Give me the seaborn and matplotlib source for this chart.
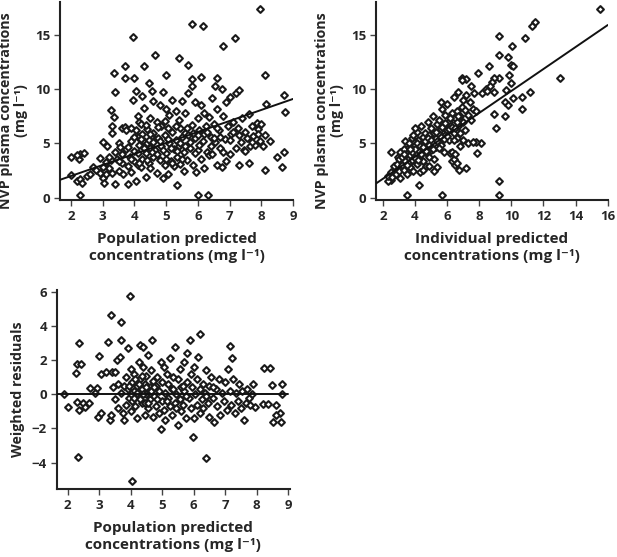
import numpy as np
import pandas as pd
import seaborn as sns
import matplotlib
matplotlib.use("Agg")
import matplotlib.pyplot as plt

pop_pts = [
    (2.0, 2.1), (2.0, 3.8), (2.28, 0.3), (2.2, 1.5), (2.3, 1.7), (2.25, 3.6), (2.3, 4.0), (2.2, 3.9),
    (2.4, 4.1), (2.35, 1.4), (2.5, 2.0), (2.7, 2.8), (2.8, 2.6), (2.9, 3.7), (3.0, 5.1), (3.0, 1.8),
    (3.05, 1.4), (3.1, 2.2), (3.1, 3.3), (3.15, 4.8), (3.2, 2.7), (3.25, 3.5), (3.3, 6.0), (3.3, 6.6),
    (3.25, 8.1), (3.35, 7.4), (3.4, 9.7), (3.35, 11.5), (3.4, 4.2), (3.4, 1.3), (3.45, 3.6), (3.5, 5.0),
    (3.5, 2.5), (3.55, 4.7), (3.6, 6.4), (3.6, 3.2), (3.65, 2.2), (3.7, 6.5), (3.7, 12.1), (3.7, 11.0),
    (3.75, 6.2), (3.75, 4.5), (3.8, 1.3), (3.8, 2.9), (3.85, 3.8), (3.9, 6.4), (3.9, 5.2), (3.9, 2.4),
    (3.95, 14.8), (3.95, 9.0), (4.0, 11.0), (4.0, 4.3), (4.0, 3.4), (4.05, 1.5), (4.05, 9.8), (4.1, 7.5),
    (4.1, 5.6), (4.1, 3.0), (4.15, 7.0), (4.15, 4.9), (4.2, 6.8), (4.2, 2.8), (4.25, 9.4), (4.25, 5.9),
    (4.25, 3.6), (4.3, 12.1), (4.3, 8.3), (4.3, 5.2), (4.35, 4.1), (4.35, 1.9), (4.4, 6.3), (4.4, 5.0),
    (4.45, 10.6), (4.45, 3.2), (4.5, 7.3), (4.5, 4.6), (4.5, 2.7), (4.55, 9.8), (4.55, 5.7), (4.6, 8.9),
    (4.6, 6.0), (4.6, 3.8), (4.65, 13.1), (4.65, 4.4), (4.7, 7.0), (4.7, 2.3), (4.75, 5.5), (4.8, 8.5),
    (4.8, 3.5), (4.85, 6.6), (4.85, 4.8), (4.9, 9.7), (4.9, 1.8), (4.95, 5.8), (4.95, 3.0), (5.0, 11.3),
    (5.0, 8.2), (5.0, 4.1), (5.05, 6.4), (5.05, 2.2), (5.1, 7.6), (5.1, 5.0), (5.15, 3.4), (5.2, 9.0),
    (5.2, 6.1), (5.25, 4.5), (5.25, 2.9), (5.3, 8.0), (5.3, 5.3), (5.35, 1.2), (5.35, 3.8), (5.4, 12.9),
    (5.4, 7.2), (5.4, 4.8), (5.45, 6.4), (5.45, 3.1), (5.5, 8.9), (5.5, 5.6), (5.55, 2.5), (5.55, 4.2),
    (5.6, 7.8), (5.6, 6.0), (5.65, 3.5), (5.7, 12.2), (5.7, 9.6), (5.7, 5.8), (5.75, 4.6), (5.8, 10.9),
    (5.8, 10.3), (5.8, 6.7), (5.82, 16.0), (5.85, 3.0), (5.9, 8.8), (5.9, 5.5), (5.95, 2.4), (6.0, 7.3),
    (6.0, 0.3), (6.0, 4.4), (6.05, 6.2), (6.1, 11.1), (6.1, 8.5), (6.1, 3.6), (6.15, 15.8), (6.15, 5.2),
    (6.2, 7.8), (6.2, 2.7), (6.25, 6.6), (6.3, 4.2), (6.33, 0.3), (6.35, 7.4), (6.35, 3.9), (6.4, 5.6),
    (6.45, 9.2), (6.45, 4.0), (6.5, 6.8), (6.55, 10.3), (6.55, 5.1), (6.6, 11.0), (6.6, 8.2), (6.6, 3.0),
    (6.65, 6.2), (6.7, 4.6), (6.75, 10.0), (6.75, 2.8), (6.8, 14.0), (6.8, 7.5), (6.85, 5.4), (6.9, 3.4),
    (6.9, 8.8), (6.95, 6.6), (7.0, 4.0), (7.0, 9.3), (7.05, 5.9), (7.1, 7.0), (7.16, 14.7), (7.2, 4.6),
    (7.2, 9.6), (7.25, 6.4), (7.3, 9.9), (7.3, 3.0), (7.35, 5.1), (7.4, 7.3), (7.45, 4.4), (7.5, 6.1),
    (7.55, 5.5), (7.6, 3.2), (7.6, 7.7), (7.65, 4.8), (7.7, 6.6), (7.75, 5.7), (7.8, 4.9), (7.85, 6.9),
    (7.9, 6.3), (7.95, 5.2), (7.97, 17.4), (8.0, 6.8), (8.05, 4.8), (8.1, 11.3), (8.1, 5.8), (8.12, 2.6),
    (8.15, 8.6), (8.28, 5.2), (8.5, 3.8), (8.65, 2.8), (8.72, 4.2), (8.72, 9.5), (8.73, 7.9),
    (3.6, 4.0), (3.8, 4.7), (3.9, 3.6), (4.0, 5.6), (4.05, 6.2), (4.1, 4.1), (4.15, 3.2), (4.2, 5.4),
    (4.3, 4.6), (4.35, 6.7), (4.4, 3.5), (4.45, 5.3), (4.5, 5.9), (4.55, 4.2), (4.6, 5.1), (4.7, 4.0),
    (4.75, 6.5), (4.8, 5.2), (4.9, 4.4), (4.95, 7.1), (5.0, 3.6), (5.05, 5.4), (5.15, 4.6), (5.2, 3.2),
    (5.3, 6.6), (5.35, 4.3), (5.45, 5.0), (5.5, 3.6), (5.6, 4.8), (5.65, 6.4), (5.75, 5.1), (5.85, 6.0),
    (5.9, 4.1), (6.0, 5.8), (6.05, 4.9), (6.2, 5.9), (6.3, 6.1), (6.4, 4.8), (6.5, 5.5), (6.6, 6.4),
    (6.7, 5.6), (6.8, 4.2), (7.0, 5.3), (7.1, 6.1), (7.3, 5.8), (7.5, 4.3), (7.7, 5.1), (7.9, 5.9),
    (3.2, 3.8), (3.5, 3.4), (3.3, 2.3), (3.0, 2.8), (2.9, 2.3), (2.6, 2.2),
]
pop_line_x = [1.65, 9.0]
pop_line_y = [1.65, 9.1]

# panel B: observed vs individual predicted
ind_pts = [
    (15.53, 17.4), (11.48, 16.15), (11.27, 15.8), (9.26, 14.9), (10.84, 14.7), (10.05, 14.0),
    (9.26, 13.1), (9.78, 12.95), (9.99, 12.25), (10.09, 12.1), (8.6, 12.15), (7.91, 11.5),
    (6.94, 11.0), (7.15, 10.9), (13.0, 11.0), (9.26, 11.0), (9.88, 11.3), (8.91, 11.0), (8.8, 10.65),
    (9.99, 10.6), (9.68, 9.9), (11.19, 9.7), (10.67, 9.3), (10.09, 9.2), (9.6, 8.8), (9.78, 8.55),
    (10.67, 8.15), (8.91, 7.7), (9.6, 7.5), (9.05, 6.4), (8.12, 5.0), (7.81, 5.1), (7.85, 4.1),
    (9.26, 1.5), (9.26, 0.25), (3.49, 0.25), (5.69, 0.25), (4.24, 1.2), (2.52, 1.6), (2.52, 4.2),
    (2.93, 3.8), (2.31, 1.5), (5.63, 8.8), (7.19, 2.7), (6.77, 2.55),
    (2.3, 2.0), (2.5, 2.4), (2.6, 1.9), (2.7, 2.9), (2.8, 2.2), (2.9, 3.1), (3.0, 2.5), (3.0, 3.6),
    (3.1, 4.2), (3.1, 1.8), (3.2, 3.0), (3.2, 3.8), (3.3, 2.6), (3.3, 4.5), (3.4, 3.4), (3.4, 5.2),
    (3.5, 2.2), (3.5, 4.0), (3.6, 3.2), (3.6, 4.7), (3.7, 2.8), (3.7, 3.9), (3.8, 5.5), (3.8, 3.5),
    (3.9, 4.3), (3.9, 2.5), (4.0, 4.9), (4.0, 3.7), (4.1, 6.1), (4.1, 3.1), (4.2, 4.4), (4.2, 5.3),
    (4.3, 2.4), (4.3, 3.9), (4.4, 6.6), (4.4, 4.8), (4.5, 5.6), (4.5, 3.4), (4.6, 4.2), (4.6, 6.0),
    (4.7, 5.1), (4.7, 2.9), (4.8, 4.6), (4.8, 7.0), (4.9, 5.8), (4.9, 3.8), (5.0, 6.4), (5.0, 4.4),
    (5.1, 5.2), (5.1, 7.5), (5.2, 6.0), (5.2, 3.6), (5.3, 5.5), (5.3, 4.7), (5.4, 6.8), (5.4, 2.8),
    (5.5, 5.9), (5.5, 7.2), (5.6, 6.3), (5.6, 4.9), (5.7, 5.4), (5.7, 8.2), (5.8, 6.7), (5.8, 4.2),
    (5.9, 7.6), (5.9, 5.8), (6.0, 6.2), (6.0, 8.6), (6.1, 5.3), (6.1, 7.0), (6.2, 4.1), (6.2, 6.6),
    (6.3, 7.8), (6.3, 3.4), (6.4, 6.0), (6.4, 9.3), (6.5, 7.3), (6.5, 3.0), (6.6, 8.0), (6.6, 5.5),
    (6.7, 9.7), (6.7, 6.6), (6.8, 7.5), (6.8, 4.8), (6.9, 8.4), (6.9, 10.8), (7.0, 7.0), (7.0, 9.0),
    (7.1, 6.2), (7.1, 8.1), (7.2, 9.5), (7.3, 7.6), (7.4, 8.8), (7.5, 7.2), (7.5, 10.3), (7.6, 8.2),
    (7.7, 9.6), (7.8, 8.0), (8.2, 9.6), (8.4, 10.0), (8.5, 9.8), (8.7, 10.3), (8.9, 9.7),
    (3.5, 3.0), (3.8, 4.2), (4.0, 4.5), (4.1, 5.0), (4.2, 3.5), (4.3, 4.8), (4.4, 4.0), (4.5, 4.7),
    (4.6, 5.2), (4.7, 4.3), (4.8, 5.5), (4.9, 4.9), (5.0, 5.3), (5.1, 4.5), (5.2, 5.0), (5.3, 6.1),
    (5.4, 5.2), (5.5, 4.6), (5.6, 5.6), (5.7, 6.5), (5.8, 5.4), (5.9, 6.9), (6.0, 5.7), (6.1, 6.3),
    (6.2, 7.3), (6.3, 6.5), (6.4, 5.3), (6.5, 6.4), (6.6, 7.0), (6.7, 7.5), (6.8, 6.0), (3.9, 5.8),
    (4.0, 6.4), (3.6, 5.0), (3.3, 4.0), (3.7, 4.5), (4.5, 2.6), (4.9, 2.9), (5.2, 2.5), (6.3, 4.2),
    (6.4, 3.6), (6.5, 4.0), (6.6, 3.2), (7.0, 5.3), (7.3, 5.0), (7.6, 5.1),
]
ind_line_x = [1.56, 16.0]
ind_line_y = [1.3, 15.9]

# panel C: weighted residuals vs population predicted
res_pts = [
    (3.97, 5.77), (3.38, 4.64), (3.68, 4.25), (2.37, 2.98), (2.29, 1.77), (2.43, 1.77), (2.27, 1.27),
    (3.70, 3.18), (3.28, 3.04), (4.69, 3.18), (5.89, 3.18), (6.21, 3.53), (7.14, 2.83), (7.21, 2.14),
    (2.32, -3.65), (6.40, -3.74), (4.05, -5.1), (5.99, -2.48), (4.96, -2.05), (1.87, 0.0),
    (2.0, -0.72), (2.30, -0.43), (2.37, -0.92), (2.48, -0.53), (2.56, -0.72), (2.69, -0.53),
    (2.72, 0.35), (2.93, 0.35), (2.88, 0.06), (2.98, 2.24), (3.04, 1.19), (3.22, 1.33),
    (2.96, -1.34), (3.04, -1.07), (3.33, -1.5), (3.36, -1.2),
    (8.23, 1.56), (8.44, 1.56), (8.5, 0.55), (8.82, 0.6), (8.82, 0.0), (8.21, -0.57), (8.37, -0.57),
    (8.51, -1.6), (8.6, -0.62), (8.74, -1.07), (8.6, -1.2), (8.76, -1.6), (7.89, 0.6), (7.96, -0.72),
    (3.4, 1.3), (3.45, 0.4), (3.5, -0.3), (3.5, 1.3), (3.55, 2.0), (3.6, 0.6), (3.6, -0.8), (3.65, 2.2),
    (3.7, 0.1), (3.75, -1.1), (3.8, 0.5), (3.8, -1.5), (3.85, 1.0), (3.85, -0.6), (3.9, 0.3), (3.9, 2.7),
    (3.95, -0.2), (4.0, 1.5), (4.0, -1.0), (4.05, 0.7), (4.05, -0.4), (4.1, 0.2), (4.1, 1.2),
    (4.15, -0.7), (4.2, 0.5), (4.2, -1.4), (4.25, 1.9), (4.25, -0.1), (4.3, 2.9), (4.3, 0.9),
    (4.35, -0.5), (4.35, 0.3), (4.4, 2.8), (4.4, 1.6), (4.45, -1.2), (4.45, 0.6), (4.5, 0.0), (4.5, 1.1),
    (4.55, -0.8), (4.55, 2.3), (4.6, 0.4), (4.6, -0.3), (4.65, 1.4), (4.7, -1.3), (4.7, 0.8),
    (4.75, -0.1), (4.8, 0.5), (4.8, -0.7), (4.85, 1.0), (4.9, 0.2), (4.9, -1.1), (4.95, 1.9),
    (5.0, -0.4), (5.0, 0.7), (5.05, 1.6), (5.05, -0.9), (5.1, 0.1), (5.1, -1.5), (5.15, 1.2),
    (5.2, -0.2), (5.2, 0.6), (5.25, 2.1), (5.25, -0.7), (5.3, 0.3), (5.3, -1.2), (5.35, 1.0),
    (5.4, -0.5), (5.4, 2.8), (5.45, 0.0), (5.5, -1.8), (5.5, 0.9), (5.55, -0.3), (5.55, 1.5),
    (5.6, 0.4), (5.6, -1.0), (5.65, -0.6), (5.7, 1.9), (5.7, 0.2), (5.75, -1.4), (5.8, 0.7), (5.8, 2.4),
    (5.85, -0.2), (5.9, 1.2), (5.9, -0.8), (5.95, 0.4), (6.0, -1.4), (6.0, 1.6), (6.05, 0.0),
    (6.1, -0.6), (6.1, 0.9), (6.15, 2.2), (6.2, -1.1), (6.2, 0.3), (6.25, -0.3), (6.3, 0.6),
    (6.3, -0.8), (6.35, 0.1), (6.4, 1.4), (6.45, -0.5), (6.5, 0.5), (6.5, -1.3), (6.55, 1.0),
    (6.6, -0.2), (6.65, -1.6), (6.7, 0.3), (6.75, -0.7), (6.8, 0.9), (6.85, -1.2), (6.9, 0.1),
    (6.95, -0.4), (7.0, 0.7), (7.05, -0.9), (7.1, 1.5), (7.15, 0.2), (7.2, -0.6), (7.25, 0.9),
    (7.3, -1.1), (7.35, 0.1), (7.4, -0.4), (7.45, 0.6), (7.5, -0.8), (7.55, 0.2), (7.6, -1.5),
    (7.65, -0.5), (7.7, 0.3), (7.75, -0.2), (7.8, -0.6), (7.85, 0.0),
    (4.0, 0.0), (4.1, -0.2), (4.2, 0.1), (4.3, -0.3), (4.4, 0.0), (4.45, -0.5), (4.5, 0.4), (4.6, 0.1),
    (4.25, 0.6), (4.15, 0.9), (3.95, 0.5), (4.35, 1.1), (4.55, -0.5), (4.65, 0.2), (4.75, 0.4),
    (4.85, -0.3), (5.15, -0.4), (5.35, 0.3), (5.45, -0.8), (5.65, 0.5), (5.75, -0.1), (6.4, -0.1),
    (6.6, 0.4),
]
res_line_x = [1.65, 9.0]
res_line_y = [0.0, 0.0]

conc_ticks = [0, 5, 10, 15]
pop_xticks = [2, 3, 4, 5, 6, 7, 8, 9]
ind_xticks = [2, 4, 6, 8, 10, 12, 14, 16]
res_yticks = [-4, -2, 0, 2, 4, 6]

unit = "(mg l\u207b\u00b9)"
ylab_conc = "NVP plasma concentrations\n" + unit
xlab_pop = "Population predicted\nconcentrations " + unit
xlab_ind = "Individual predicted\nconcentrations " + unit

sns.set_style("ticks")
plt.rcParams['font.family'] = ['Open Sans', 'DejaVu Sans']
plt.rcParams['font.weight'] = 'bold'
plt.rcParams['axes.labelweight'] = 'bold'

fig = plt.figure(figsize=(6.17, 5.57), dpi=100)
ax1 = fig.add_axes([0.097, 0.641, 0.378, 0.355])
ax2 = fig.add_axes([0.609, 0.641, 0.376, 0.355])
ax3 = fig.add_axes([0.092, 0.122, 0.378, 0.357])


def panel(ax, pts, lx, ly, xlim, ylim, xticks, yticks, xlabel, ylabel, ylab_y):
    df = pd.DataFrame(pts, columns=["x", "y"])
    sns.scatterplot(data=df, x="x", y="y", ax=ax, marker="D", s=12,
                    facecolor="white", edgecolor="#1a1a1a", linewidth=1.5, zorder=2)
    sns.lineplot(x=lx, y=ly, ax=ax, color="#111111", linewidth=1.4, zorder=3)
    ax.set_xlim(xlim)
    ax.set_ylim(ylim)
    ax.set_xticks(xticks)
    ax.set_yticks(yticks)
    ax.set_xlabel(xlabel, fontsize=11, fontweight='bold', labelpad=7, linespacing=1.2)
    ax.set_ylabel(ylabel, fontsize=10.3, fontweight='bold', linespacing=1.15)
    ax.yaxis.set_label_coords(-0.135, ylab_y)
    ax.tick_params(labelsize=9.5, width=1, length=4, color="#444444", pad=3)
    for lab in ax.get_xticklabels() + ax.get_yticklabels():
        lab.set_fontweight('bold')
    for s in ["left", "bottom"]:
        ax.spines[s].set_linewidth(1.5)
        ax.spines[s].set_color("#222222")
    sns.despine(ax=ax)


panel(ax1, pop_pts, pop_line_x, pop_line_y, (1.65, 9.0), (-0.2, 18.0),
      pop_xticks, conc_ticks, xlab_pop, ylab_conc, 0.45)
panel(ax2, ind_pts, ind_line_x, ind_line_y, (1.56, 16.0), (-0.2, 18.0),
      ind_xticks, conc_ticks, xlab_ind, ylab_conc, 0.45)
panel(ax3, res_pts, res_line_x, res_line_y, (1.65, 9.06), (-5.55, 6.1),
      pop_xticks, res_yticks, xlab_pop, "Weighted residuals", 0.5)

fig.savefig("out.png", dpi=100)
